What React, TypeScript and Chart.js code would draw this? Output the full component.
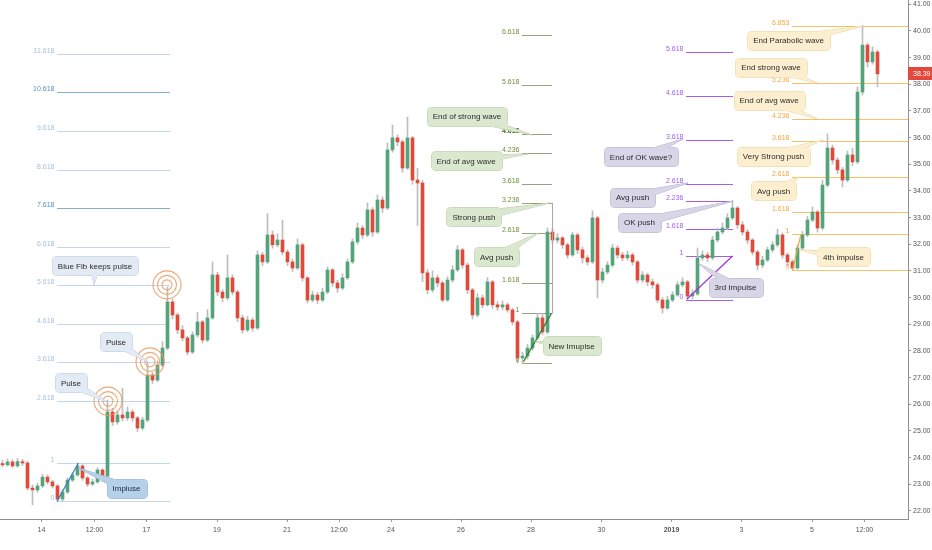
import React, { useEffect, useRef } from 'react';
import { Chart, registerables } from 'chart.js';

Chart.register(...registerables);

// ---------- DATA ----------
const firstOpen = 23.78;
const closes = [
  23.73, 23.84, 23.69, 23.85, 23.80, 22.86, 22.79, 22.94, 23.27, 23.09,
  22.94, 22.45, 22.71, 23.16, 23.35, 23.69, 23.24, 23.01, 23.09, 23.54,
  23.31, 25.71, 25.34, 25.60, 25.49, 25.71, 25.49, 25.11, 25.41, 27.10,
  26.91, 27.47, 28.11, 29.84, 29.35, 28.79, 28.49, 27.96, 28.60, 29.09,
  28.41, 29.24, 30.85, 30.21, 29.99, 30.74, 30.21, 29.24, 28.79, 29.16,
  28.86, 31.60, 31.34, 32.35, 31.98, 32.16, 31.71, 31.34, 31.11, 31.98,
  30.74, 29.91, 30.10, 29.91, 30.21, 31.04, 30.55, 30.36, 30.74, 31.34,
  32.09, 32.61, 32.35, 33.29, 32.46, 33.66, 33.36, 35.54, 35.99, 35.84,
  34.86, 35.99, 34.41, 34.30, 30.93, 30.29, 30.74, 30.55, 29.91, 30.66,
  31.04, 31.79, 31.22, 30.29, 29.35, 29.99, 29.73, 30.59, 29.73, 29.65,
  29.73, 29.54, 29.09, 27.74, 27.81, 28.11, 28.49, 29.24, 28.71, 32.46,
  32.16, 32.24, 31.98, 31.60, 32.35, 31.79, 31.49, 31.34, 32.99, 30.66,
  30.96, 31.22, 31.86, 31.60, 31.49, 31.60, 31.34, 30.66, 30.85, 30.59,
  30.48, 29.91, 29.61, 29.91, 30.10, 30.48, 30.59, 30.06, 30.14, 31.49,
  31.60, 31.49, 32.16, 32.46, 32.61, 32.99, 33.36, 32.73, 32.46, 32.16,
  31.71, 31.22, 31.41, 31.79, 31.98, 32.35, 31.60, 31.34, 31.11, 31.86,
  32.35, 32.91, 33.21, 32.61, 34.22, 35.61, 35.16, 34.79, 34.41, 35.35,
  35.09, 37.71, 39.47, 38.84, 39.21, 38.39,
];
const highs = [
  23.90, 23.95, 23.92, 23.97, 23.93, 23.86, 22.98, 23.05, 23.38, 23.35,
  23.15, 23.00, 22.80, 23.24, 23.44, 23.80, 23.74, 23.30, 23.20, 23.62,
  23.58, 26.16, 25.85, 25.75, 26.61, 25.90, 25.80, 25.55, 25.52, 27.59,
  27.20, 27.62, 28.35, 30.40, 29.95, 29.42, 28.95, 28.55, 28.72, 29.45,
  29.15, 29.55, 31.34, 30.95, 30.30, 31.60, 30.85, 30.28, 29.35, 29.30,
  29.25, 31.75, 31.70, 33.15, 32.50, 32.40, 32.91, 31.80, 31.45, 32.20,
  32.05, 30.80, 30.25, 30.20, 30.35, 31.15, 31.10, 30.65, 30.90, 31.45,
  32.20, 32.80, 32.70, 33.55, 33.38, 33.85, 33.78, 35.80, 36.47, 36.10,
  35.92, 36.77, 36.05, 34.85, 34.40, 31.05, 31.00, 30.85, 30.62, 30.78,
  31.20, 31.95, 31.85, 31.30, 30.35, 30.15, 30.10, 30.75, 30.65, 29.85,
  29.88, 29.80, 29.60, 29.15, 27.95, 28.25, 28.60, 29.41, 29.41, 32.61,
  32.60, 32.40, 32.30, 32.05, 32.45, 32.42, 31.90, 31.58, 33.25, 33.05,
  31.10, 31.35, 32.00, 31.95, 31.70, 31.75, 31.68, 31.40, 30.98, 30.92,
  30.70, 30.55, 30.00, 30.05, 30.22, 30.60, 30.75, 30.65, 30.30, 31.86,
  31.75, 31.70, 32.30, 32.60, 32.80, 33.15, 33.63, 33.42, 32.85, 32.55,
  32.22, 31.78, 31.55, 31.90, 32.10, 32.57, 32.42, 31.68, 31.42, 31.98,
  32.48, 33.05, 33.40, 33.28, 34.40, 36.14, 35.72, 35.25, 34.88, 35.50,
  35.60, 37.90, 40.19, 39.55, 39.40, 39.28,
];
const lows = [
  23.66, 23.68, 23.62, 23.64, 23.70, 22.78, 22.23, 22.70, 22.88, 23.00,
  22.86, 22.37, 22.38, 22.66, 23.10, 23.30, 23.15, 22.92, 22.95, 23.04,
  23.22, 23.26, 25.20, 25.25, 25.38, 25.40, 25.36, 24.98, 25.05, 25.35,
  26.78, 26.85, 27.40, 28.05, 29.20, 28.65, 28.38, 27.85, 27.90, 28.52,
  28.30, 28.35, 29.18, 30.08, 29.85, 29.92, 30.10, 29.10, 28.67, 28.72,
  28.74, 28.80, 31.20, 31.28, 31.85, 31.90, 31.60, 31.20, 30.98, 31.05,
  30.62, 29.80, 29.84, 29.78, 29.85, 30.15, 30.42, 30.20, 30.30, 30.68,
  31.28, 32.00, 32.22, 32.28, 32.30, 32.40, 33.20, 33.30, 35.45, 35.70,
  34.70, 34.80, 34.25, 32.70, 30.60, 30.15, 30.20, 30.40, 29.84, 29.86,
  30.58, 30.98, 31.10, 30.15, 29.20, 29.28, 29.62, 29.68, 29.60, 29.52,
  29.55, 29.45, 28.98, 27.55, 27.52, 27.70, 28.02, 28.42, 28.60, 28.65,
  32.02, 32.05, 31.85, 31.48, 31.55, 31.65, 31.30, 31.22, 31.28, 29.99,
  30.55, 30.88, 31.15, 31.48, 31.38, 31.40, 31.22, 30.55, 30.58, 30.45,
  30.35, 29.80, 29.42, 29.55, 29.85, 30.05, 30.40, 29.91, 29.95, 30.08,
  31.40, 31.35, 31.42, 32.08, 32.38, 32.55, 32.92, 32.60, 32.35, 32.02,
  31.60, 31.04, 31.12, 31.35, 31.70, 31.90, 31.48, 31.20, 31.04, 31.06,
  31.80, 32.28, 32.85, 32.46, 32.55, 34.15, 35.00, 34.65, 34.15, 34.35,
  34.95, 35.02, 37.60, 38.65, 38.75, 37.90,
];
const opens = closes.map((_, i) => (i === 0 ? firstOpen : closes[i - 1]));

const xTickIdx = [7.8, 18.4, 28.8, 42.9, 56.9, 67.3, 77.7, 91.7, 105.7, 119.8, 133.8, 147.8, 161.9, 172.4];
const xTickLabels = ['14', '12:00', '17', '19', '21', '12:00', '24', '26', '28', '30', '2019', '3', '5', '12:00'];
const yTickValues = [22, 23, 24, 25, 26, 27, 28, 29, 30, 31, 32, 33, 34, 35, 36, 37, 38, 39, 40, 41];
const lastPrice = 38.39;

// Fibonacci extensions
const blueLevels = [0, 1, 2.618, 3.618, 4.618, 5.618, 6.618, 7.618, 8.618, 9.618, 10.618, 11.618];
const greenLevels = [0, 1, 1.618, 2.618, 3.236, 3.618, 4.236, 4.618, 5.618, 6.618];
const purpleLevels = [0, 1, 1.618, 2.236, 2.618, 3.618, 4.618, 5.618];
const orangeLevels = [0, 1, 1.618, 2.618, 3.618, 4.236, 5.236, 6.853];
const fibBase = [22.36, 27.55, 29.91, 31.04];
const fibUnit = [1.444, 1.856, 1.6575, 1.335];
const fibFrom = [10.9, 103.9, 136.7, 157.9];
const fibTo = [33.5, 109.9, 146.1, 181.1];

// Impulse trend lines [x0, y0, x1, y1]
const impulseBlue = [10.9, 22.36, 15.2, 23.80];
const impulseGreen = [104.2, 27.60, 109.8, 29.41];
const impulsePurple = [136.9, 29.95, 146.0, 31.56];
const impulseOrange = [158.0, 31.04, 159.7, 32.38];

const pulseCircles = [
  { x: 21.1, y: 26.12 },
  { x: 29.5, y: 27.59 },
  { x: 32.9, y: 30.48 },
];

const notes = [
  { text: 'Blue Fib keeps pulse', x: 18.5, y: 31.19, tx: 18.3, ty: 30.48, theme: 'blue' },
  { text: 'Pulse', x: 22.7, y: 28.34, tx: 29.1, ty: 27.59, theme: 'blue' },
  { text: 'Pulse', x: 13.7, y: 26.8, tx: 20.9, ty: 26.09, theme: 'blue' },
  { text: 'Impluse', x: 24.8, y: 22.84, tx: 15.1, ty: 23.62, theme: 'blueDark' },
  { text: 'End of strong wave', x: 92.9, y: 36.81, tx: 105.9, ty: 36.1, theme: 'green' },
  { text: 'End of avg wave', x: 92.7, y: 35.13, tx: 105.1, ty: 35.39, theme: 'green' },
  { text: 'Strong push', x: 94.3, y: 33.03, tx: 109.5, ty: 33.55, theme: 'green' },
  { text: 'Avg push', x: 98.8, y: 31.53, tx: 107.1, ty: 32.42, theme: 'green' },
  { text: 'New Imuplse', x: 113.8, y: 28.19, tx: 106.5, ty: 28.34, theme: 'green' },
  { text: 'End of OK wave?', x: 127.7, y: 35.28, tx: 136.1, ty: 35.95, theme: 'purple' },
  { text: 'Avg push', x: 126.0, y: 33.76, tx: 137.1, ty: 34.3, theme: 'purple' },
  { text: 'OK push', x: 127.4, y: 32.82, tx: 146.1, ty: 33.62, theme: 'purple' },
  { text: '3rd Impulse', x: 146.6, y: 30.38, tx: 139.2, ty: 31.28, theme: 'purple' },
  { text: 'End Parabolic wave', x: 157.2, y: 39.64, tx: 172.3, ty: 40.19, theme: 'orange' },
  { text: 'End strong wave', x: 153.7, y: 38.63, tx: 162.9, ty: 38.05, theme: 'orange' },
  { text: 'End of avg wave', x: 153.3, y: 37.39, tx: 162.9, ty: 36.7, theme: 'orange' },
  { text: 'Very Strong push', x: 154.2, y: 35.31, tx: 164.1, ty: 35.91, theme: 'orange' },
  { text: 'Avg push', x: 154.2, y: 34.0, tx: 159.5, ty: 34.53, theme: 'orange' },
  { text: '4th impulse', x: 168.2, y: 31.53, tx: 159.5, ty: 31.79, theme: 'orange' },
];

// ---------- STYLE ----------
const FONT = '"Liberation Sans", Arial, sans-serif';
const UP = '#53a47b';
const DOWN = '#e04a3b';
const WICK = '#bdbdbd';

const fibStyles = [
  { line: '#c2d6ec', strongLine: '#86acd8', label: '#a9c1dc', strongLabel: '#5b8cc2', strong: [10.618, 7.618], boldLabel: [] as number[] },
  { line: '#96a67c', strongLine: '#96a67c', label: '#6f8f3c', strongLabel: '#4e6b22', strong: [4.618], boldLabel: [4.618] },
  { line: '#a55ce6', strongLine: '#a55ce6', label: '#a45fe6', strongLabel: '#a45fe6', strong: [], boldLabel: [] },
  { line: '#f7c069', strongLine: '#f7c069', label: '#f2a73c', strongLabel: '#f2a73c', strong: [], boldLabel: [] },
];
const fibLevelSets = [blueLevels, greenLevels, purpleLevels, orangeLevels];

const themes: Record<string, { fill: string; stroke: string; text: string }> = {
  blue: { fill: '#e2eaf3', stroke: '#bccbdc', text: '#2b2b2b' },
  blueDark: { fill: '#b7d0ea', stroke: '#93b3d6', text: '#1f2a36' },
  green: { fill: '#dbe8d0', stroke: '#b6caa3', text: '#2b2b2b' },
  purple: { fill: '#d8d5e7', stroke: '#b4aecd', text: '#2b2b2b' },
  orange: { fill: '#fcefd0', stroke: '#e9d39c', text: '#2b2b2b' },
};

function drawNote(ctx: CanvasRenderingContext2D, bx: number, by: number, tx: number, ty: number, text: string, th: { fill: string; stroke: string; text: string }) {
  ctx.font = `8px ${FONT}`;
  const w = Math.round(ctx.measureText(text).width + 12);
  const h = 19;
  const x0 = Math.round(bx - w / 2) + 0.5;
  const y0 = Math.round(by - h / 2) + 0.5;
  const dx = tx - bx;
  const dy = ty - by;
  const len = Math.hypot(dx, dy) || 1;
  const px = (-dy / len) * 5;
  const py = (dx / len) * 5;
  const tri = () => {
    ctx.beginPath();
    ctx.moveTo(bx + px, by + py);
    ctx.lineTo(tx, ty);
    ctx.lineTo(bx - px, by - py);
    ctx.closePath();
  };
  const box = () => {
    ctx.beginPath();
    const anyCtx = ctx as any;
    if (anyCtx.roundRect) anyCtx.roundRect(x0, y0, w, h, 4);
    else ctx.rect(x0, y0, w, h);
  };
  ctx.lineWidth = 1;
  ctx.strokeStyle = th.stroke;
  tri();
  ctx.stroke();
  box();
  ctx.stroke();
  ctx.fillStyle = th.fill;
  tri();
  ctx.fill();
  box();
  ctx.fill();
  ctx.fillStyle = th.text;
  ctx.textAlign = 'center';
  ctx.textBaseline = 'middle';
  ctx.fillText(text, bx, by + 0.5);
}

const overlayPlugin = {
  id: 'fibOverlay',
  beforeDatasetsDraw(chart: any) {
    const { ctx, chartArea } = chart;
    const xs = chart.scales.x;
    const ys = chart.scales.y;
    ctx.save();
    ctx.beginPath();
    ctx.rect(chartArea.left, chartArea.top, chartArea.width, chartArea.height);
    ctx.clip();
    fibLevelSets.forEach((levels, k) => {
      const st = fibStyles[k];
      const x0 = xs.getPixelForValue(fibFrom[k]);
      const x1 = xs.getPixelForValue(fibTo[k]);
      levels.forEach((lv) => {
        const py = Math.round(ys.getPixelForValue(fibBase[k] + lv * fibUnit[k])) + 0.5;
        ctx.strokeStyle = st.strong.includes(lv) ? st.strongLine : st.line;
        ctx.lineWidth = 1;
        ctx.beginPath();
        ctx.moveTo(x0, py);
        ctx.lineTo(x1, py);
        ctx.stroke();
      });
    });
    ctx.restore();
  },
  afterDatasetsDraw(chart: any) {
    const { ctx, chartArea } = chart;
    const xs = chart.scales.x;
    const ys = chart.scales.y;
    const X = (v: number) => xs.getPixelForValue(v);
    const Y = (v: number) => ys.getPixelForValue(v);
    ctx.save();
    ctx.beginPath();
    ctx.rect(chartArea.left, chartArea.top, chartArea.width, chartArea.height);
    ctx.clip();

    // fib labels
    fibLevelSets.forEach((levels, k) => {
      const st = fibStyles[k];
      const x0 = X(fibFrom[k]) - 2.5;
      levels.forEach((lv) => {
        const py = Math.round(Y(fibBase[k] + lv * fibUnit[k]));
        const bold = st.boldLabel.includes(lv);
        ctx.font = `${bold ? 'bold ' : ''}7px ${FONT}`;
        ctx.fillStyle = st.strong.includes(lv) ? st.strongLabel : st.label;
        ctx.textAlign = 'right';
        ctx.textBaseline = 'alphabetic';
        ctx.fillText(String(lv), x0, py - 1);
      });
    });

    // vertical helper line of the green extension
    ctx.strokeStyle = '#a9a9a9';
    ctx.lineWidth = 1;
    ctx.beginPath();
    ctx.moveTo(Math.round(X(fibTo[1])) + 0.5, Y(fibBase[1] + 3.236 * fibUnit[1]));
    ctx.lineTo(Math.round(X(fibTo[1])) + 0.5, Y(fibBase[1] + 1 * fibUnit[1]));
    ctx.stroke();

    // impulse lines
    const seg = (a: number[], color: string) => {
      ctx.strokeStyle = color;
      ctx.lineWidth = 1.2;
      ctx.beginPath();
      ctx.moveTo(X(a[0]), Y(a[1]));
      ctx.lineTo(X(a[2]), Y(a[3]));
      ctx.stroke();
    };
    seg(impulseBlue, '#3f80c6');
    seg(impulseGreen, '#2f7d32');
    seg(impulsePurple, '#9a33e6');
    seg(impulseOrange, '#f0a63a');

    // pulse circles
    pulseCircles.forEach((c) => {
      const cx = X(c.x);
      const cy = Y(c.y);
      [5, 9.5, 14].forEach((r) => {
        ctx.strokeStyle = 'rgba(236, 150, 90, 0.85)';
        ctx.lineWidth = 1.1;
        ctx.beginPath();
        ctx.arc(cx, cy, r, 0, Math.PI * 2);
        ctx.stroke();
      });
    });

    // callouts
    notes.forEach((n) => {
      drawNote(ctx, X(n.x), Y(n.y), X(n.tx), Y(n.ty), n.text, themes[n.theme]);
    });
    ctx.restore();
  },
  afterDraw(chart: any) {
    const { ctx, chartArea, width } = chart;
    const ys = chart.scales.y;
    const py = Math.round(ys.getPixelForValue(lastPrice));
    ctx.save();
    ctx.fillStyle = '#e2483b';
    ctx.fillRect(chartArea.right, py - 7, width - chartArea.right, 13);
    ctx.fillStyle = '#ffffff';
    ctx.font = `7px ${FONT}`;
    ctx.textAlign = 'left';
    ctx.textBaseline = 'middle';
    ctx.fillText(lastPrice.toFixed(2), chartArea.right + 5, py);
    ctx.restore();
  },
};

export default function App() {
  const ref = useRef<HTMLCanvasElement | null>(null);

  useEffect(() => {
    if (!ref.current) return;
    const bodies = closes.map((c, i) => ({ x: i, y: [opens[i], c] }));
    const wicks = closes.map((_, i) => ({ x: i, y: [lows[i], highs[i]] }));
    const chart = new Chart(ref.current, {
      type: 'bar',
      data: {
        datasets: [
          {
            data: wicks as any,
            backgroundColor: WICK,
            barThickness: 1,
            grouped: false,
            order: 2,
            borderWidth: 0,
          } as any,
          {
            data: bodies as any,
            backgroundColor: (c: any) => {
              const i = c.dataIndex;
              return closes[i] >= opens[i] ? UP : DOWN;
            },
            barThickness: 3,
            minBarLength: 1,
            grouped: false,
            order: 1,
            borderWidth: 0,
          } as any,
        ],
      },
      options: {
        responsive: false,
        animation: false,
        layout: { padding: 0 },
        plugins: { legend: { display: false }, tooltip: { enabled: false } },
        events: [],
        scales: {
          x: {
            type: 'linear',
            min: -0.5,
            max: 181.1,
            offset: false,
            grid: { display: true, drawOnChartArea: false, drawTicks: true, tickLength: 3, color: '#9a9a9a', offset: false },
            border: { display: true, color: '#8f8f8f' },
            afterBuildTicks: (s: any) => {
              s.ticks = xTickIdx.map((v) => ({ value: v }));
            },
            afterFit: (s: any) => {
              s.height = 31;
              s.paddingLeft = 0;
              s.paddingRight = 0;
            },
            ticks: {
              autoSkip: false,
              maxRotation: 0,
              minRotation: 0,
              padding: 4,
              color: '#555555',
              font: (c: any) => ({ family: FONT, size: 7, weight: c.index === 10 ? 'bold' : 'normal' }),
              callback: (_v: any, i: number) => xTickLabels[i],
            },
          },
          y: {
            type: 'linear',
            position: 'right',
            min: 21.7,
            max: 41.16,
            grid: { display: true, drawOnChartArea: false, drawTicks: true, tickLength: 3, color: '#9a9a9a' },
            border: { display: true, color: '#8f8f8f' },
            afterBuildTicks: (s: any) => {
              s.ticks = yTickValues.map((v) => ({ value: v }));
            },
            afterFit: (s: any) => {
              s.width = 24;
              s.paddingTop = 0;
              s.paddingBottom = 0;
            },
            ticks: {
              padding: 2,
              color: '#555555',
              font: { family: FONT, size: 7 },
              callback: (v: any) => Number(v).toFixed(2),
            },
          },
        },
      } as any,
      plugins: [overlayPlugin],
    });
    return () => chart.destroy();
  }, []);

  return (
    <div style={{ position: 'absolute', left: 0, top: 0, width: 932, height: 550, background: '#ffffff' }}>
      <canvas ref={ref} width={932} height={550} style={{ display: 'block', width: 932, height: 550 }} />
    </div>
  );
}
